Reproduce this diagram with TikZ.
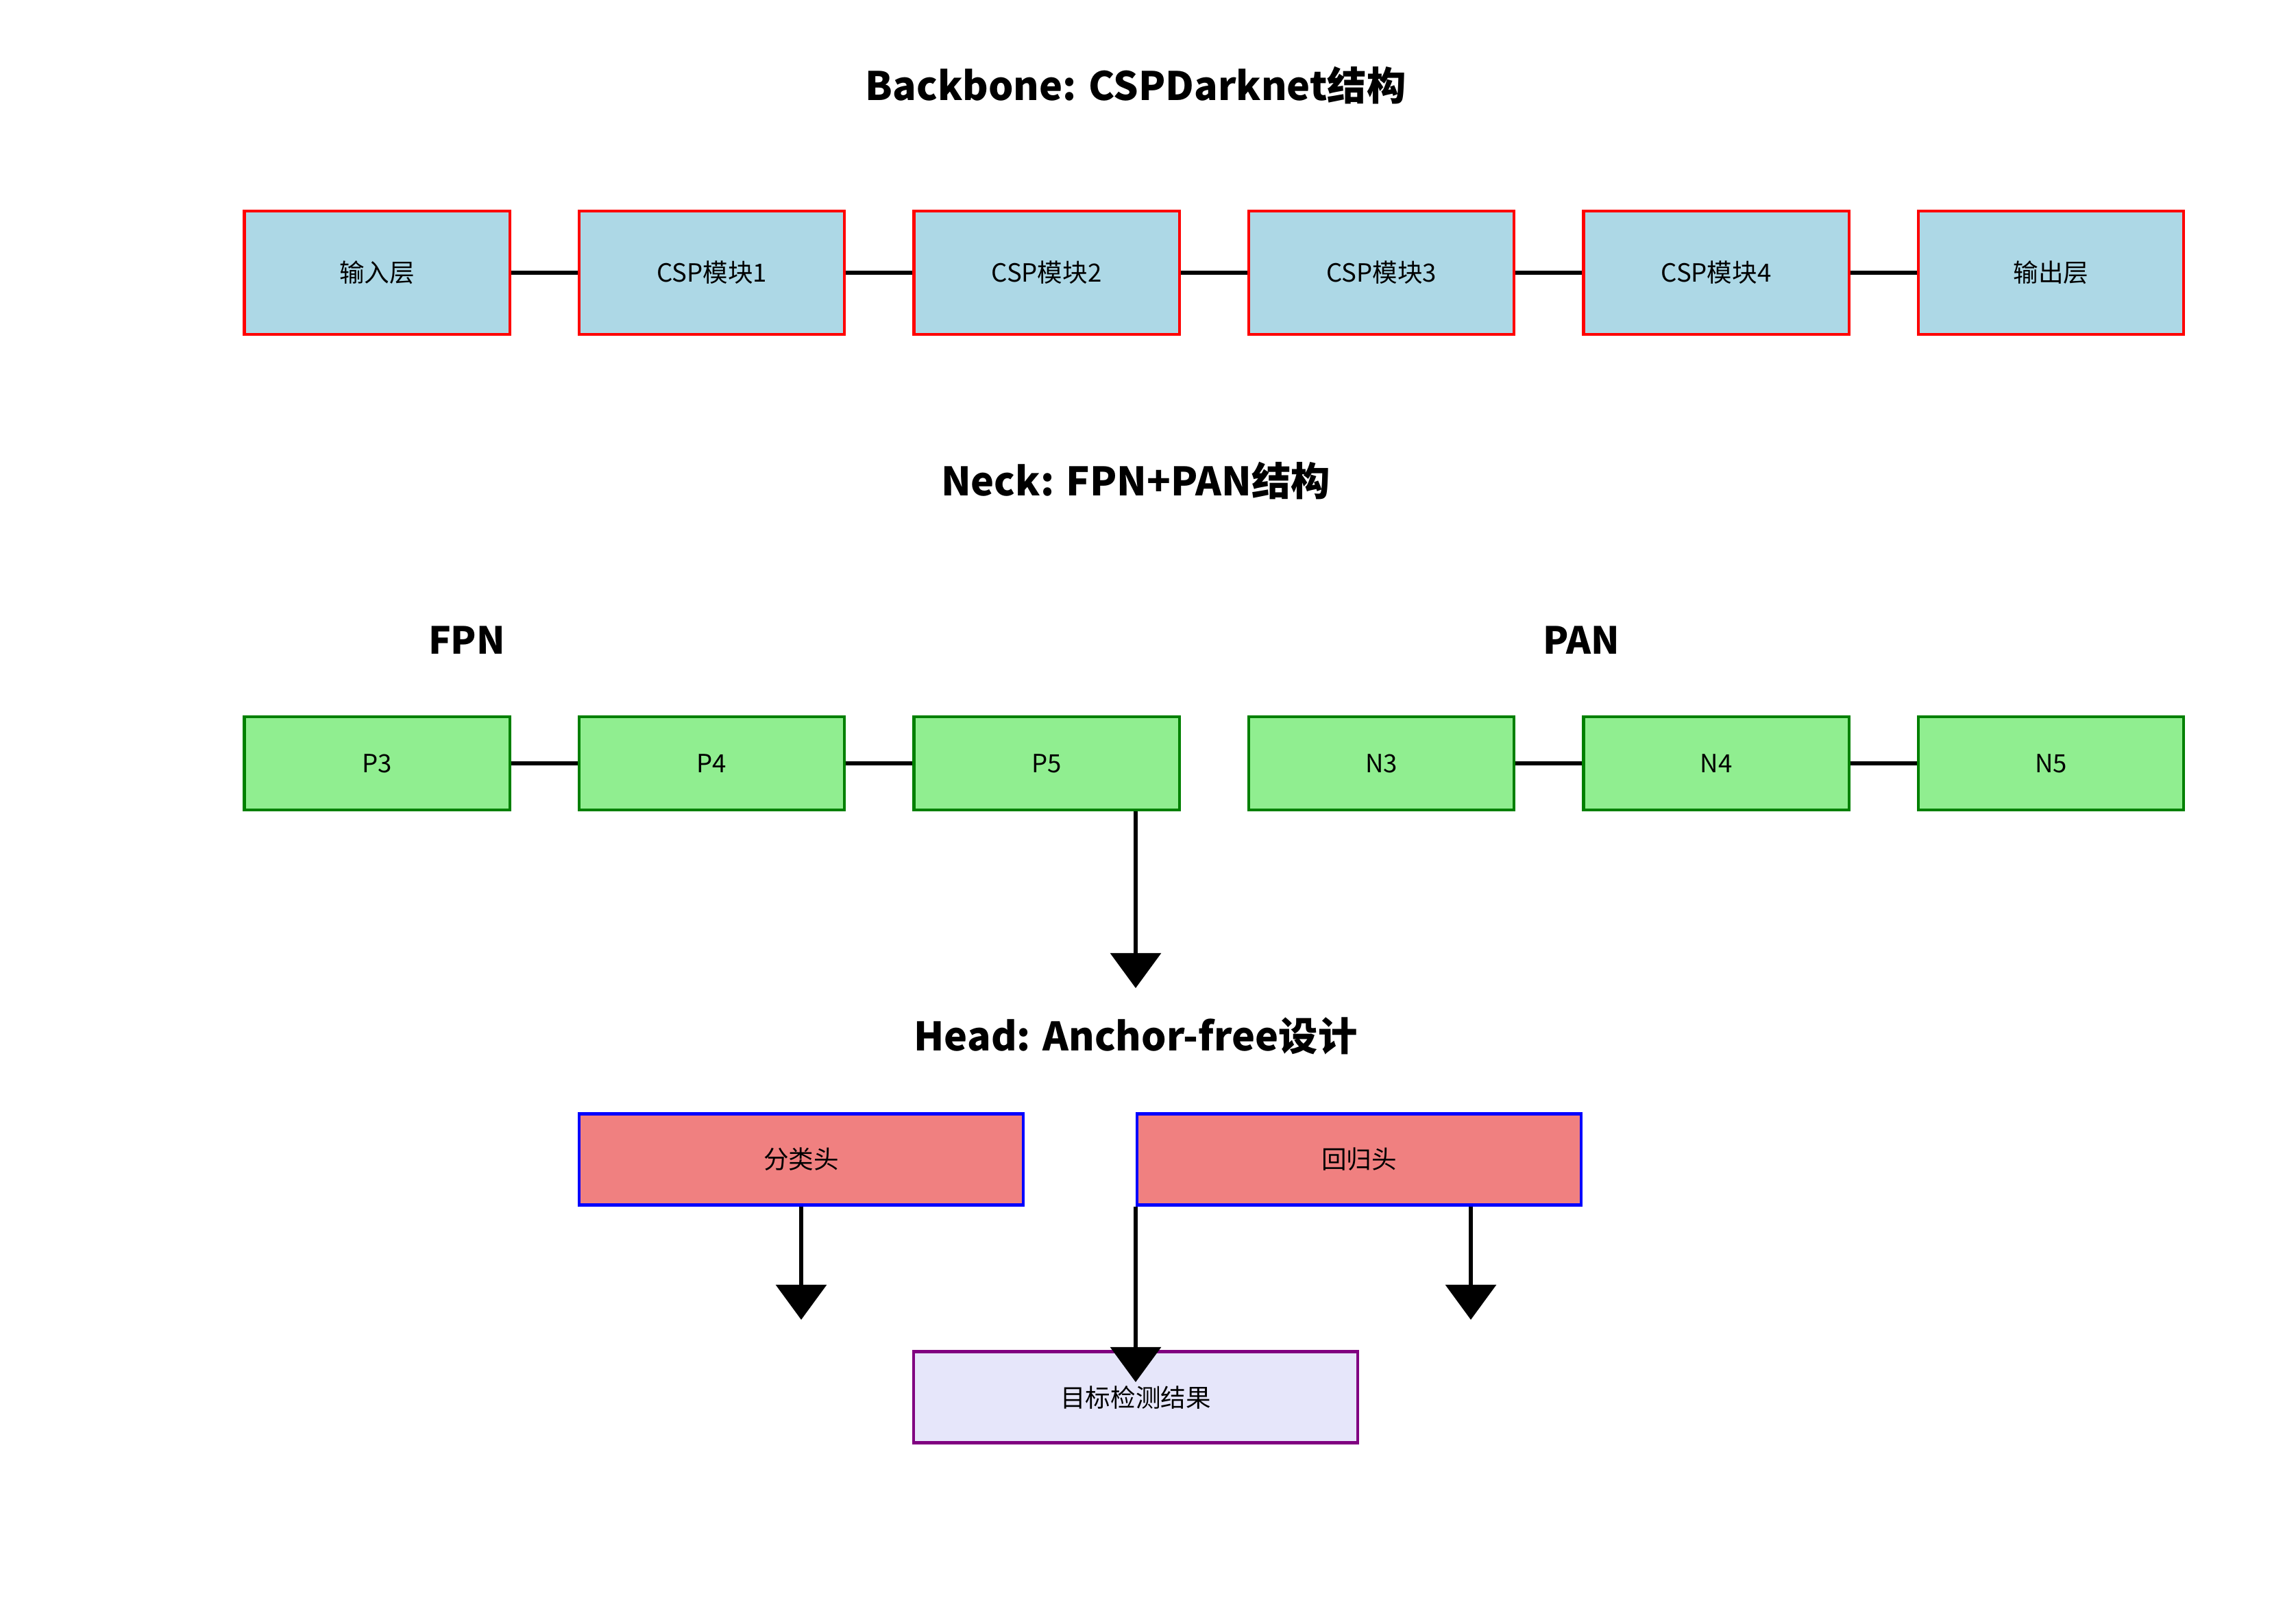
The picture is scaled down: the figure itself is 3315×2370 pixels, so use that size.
\documentclass[tikz,border=0pt]{standalone}
\usepackage{fontspec}
\setmainfont{Noto Sans CJK SC}
\usetikzlibrary{positioning,arrows.meta}

\definecolor{lightblue}{HTML}{ADD8E6}
\definecolor{lightgreen}{HTML}{90EE90}
\definecolor{darkgreen}{HTML}{008000}
\definecolor{lightcoral}{HTML}{F08080}
\definecolor{lavender}{HTML}{E6E6FA}
\definecolor{webpurple}{HTML}{800080}

\begin{document}
\begin{tikzpicture}[
    x=0.01cm, y=-0.01cm,
    node distance=0.97cm,
    box/.style={draw, rectangle, line width=1.2pt, inner sep=0pt,
        minimum width=3.87cm, font=\fontsize{10.4}{12}\selectfont},
    backbone/.style={box, draw=red, fill=lightblue, minimum height=1.80cm},
    neckbox/.style={box, draw=darkgreen, fill=lightgreen, minimum height=1.36cm},
    headbox/.style={box, draw=blue, fill=lightcoral, minimum width=6.47cm, minimum height=1.33cm},
    resultbox/.style={box, draw=webpurple, fill=lavender, minimum width=6.47cm, minimum height=1.33cm},
    title/.style={font=\bfseries\fontsize{16.3}{19}\selectfont},
    subtitle/.style={font=\bfseries\fontsize{15.5}{18}\selectfont},
    link/.style={line width=1.7pt},
    flow/.style={line width=1.8pt, -{Triangle[width=0.73cm,length=0.51cm]}}
]
\useasboundingbox (0,0) rectangle (3315,2370);

% Backbone
\node[title] (bbtitle) at (1657,125) {Backbone: CSPDarknet结构};
\node[backbone] (input) at (550,398) {输入层};
\node[backbone, right=of input] (csp1) {CSP模块1};
\node[backbone, right=of csp1] (csp2) {CSP模块2};
\node[backbone, right=of csp2] (csp3) {CSP模块3};
\node[backbone, right=of csp3] (csp4) {CSP模块4};
\node[backbone, right=of csp4] (output) {输出层};

\draw[link] (input) -- (csp1);
\draw[link] (csp1) -- (csp2);
\draw[link] (csp2) -- (csp3);
\draw[link] (csp3) -- (csp4);
\draw[link] (csp4) -- (output);

% Neck
\node[title] (necktitle) at (1657,702) {Neck: FPN+PAN结构};
\node[subtitle] (fpn) at (681,934) {FPN};
\node[subtitle] (pan) at (2307,934) {PAN};
\node[neckbox] (p3) at (550,1114) {P3};
\node[neckbox, right=of p3] (p4) {P4};
\node[neckbox, right=of p4] (p5) {P5};
\node[neckbox, right=of p5] (n3) {N3};
\node[neckbox, right=of n3] (n4) {N4};
\node[neckbox, right=of n4] (n5) {N5};

\draw[link] (p3) -- (p4);
\draw[link] (p4) -- (p5);
\draw[link] (n3) -- (n4);
\draw[link] (n4) -- (n5);

% Head
\node[title] (headtitle) at (1657,1512) {Head: Anchor-free设计};
\node[headbox] (cls) at (1169,1692) {分类头};
\node[headbox] (reg) at (1983,1692) {回归头};
\node[resultbox] (result) at (1657,2039) {目标检测结果};

\coordinate (headin) at (1657,1442);
\coordinate (clsout) at (1169,1926);
\coordinate (regin) at (1657,2017);
\coordinate (regout) at (2146,1926);

\draw[flow] (p5.south -| headin) -- (headin);
\draw[flow] (cls.south) -- (clsout);
\draw[flow] (reg.south -| regin) -- (regin);
\draw[flow] (reg.south -| regout) -- (regout);

\end{tikzpicture}
\end{document}
